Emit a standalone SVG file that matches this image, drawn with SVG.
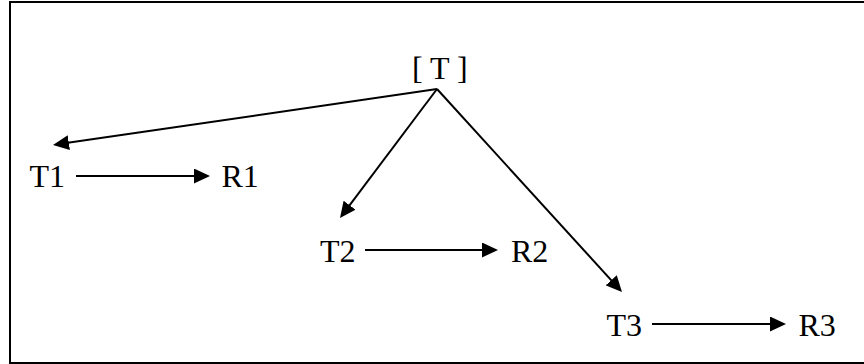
<svg xmlns="http://www.w3.org/2000/svg" width="864" height="364" viewBox="0 0 864 364">
  <style>
    .lbl { font-family: "Liberation Serif", "Times New Roman", serif; font-size: 32px; fill: #000; }
    .edge { stroke: #000; stroke-width: 2; fill: none; }
  </style>
  <defs>
    <marker id="ah" markerUnits="userSpaceOnUse" markerWidth="16" markerHeight="15" refX="8" refY="7.5" orient="auto">
      <path d="M0,0 L16,7.5 L0,15 z" fill="#000"/>
    </marker>
  </defs>
  <rect x="0" y="0" width="864" height="364" fill="#fff"/>
  <rect x="10" y="2" width="870" height="361" fill="none" stroke="#000" stroke-width="2"/>
  <g id="connectors">
    <line class="edge" x1="437" y1="89" x2="60.9" y2="143.85" marker-end="url(#ah)"/>
    <line class="edge" x1="437" y1="89" x2="344.8" y2="211.6" marker-end="url(#ah)"/>
    <line class="edge" x1="437" y1="89" x2="616.6" y2="286.1" marker-end="url(#ah)"/>
    <line class="edge" x1="76" y1="176" x2="202" y2="176" marker-end="url(#ah)"/>
    <line class="edge" x1="365" y1="250" x2="490" y2="250" marker-end="url(#ah)"/>
    <line class="edge" x1="652" y1="324" x2="778" y2="324" marker-end="url(#ah)"/>
  </g>
  <g id="node-T"><text class="lbl" x="412" y="79">[ T ]</text></g>
  <g id="node-T1"><text class="lbl" x="29.5" y="187">T1</text></g>
  <g id="node-R1"><text class="lbl" x="221.5" y="187">R1</text></g>
  <g id="node-T2"><text class="lbl" x="320" y="262">T2</text></g>
  <g id="node-R2"><text class="lbl" x="511" y="262">R2</text></g>
  <g id="node-T3"><text class="lbl" x="606.5" y="336">T3</text></g>
  <g id="node-R3"><text class="lbl" x="798.5" y="336">R3</text></g>
</svg>
